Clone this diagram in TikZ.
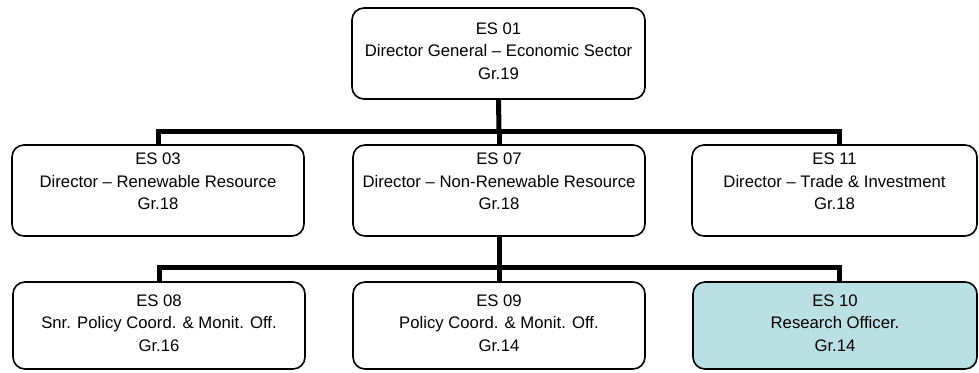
\documentclass[tikz,border=0pt]{standalone}
\usepackage{fontspec}
\setmainfont{Liberation Sans}
\definecolor{hilite}{RGB}{187,224,227}
\begin{document}
\begin{tikzpicture}[x=1pt,y=-1pt,
  box/.style={draw=black,line width=1.6pt,rounded corners=12pt,fill=white,inner sep=0pt},
  lbl/.style={inner sep=0pt,align=center,font=\fontsize{16.7}{22.5}\selectfont},
  conn/.style={line width=5pt,line join=miter}]
\useasboundingbox (0,0) rectangle (979,372);
% boxes
\node[box,minimum width=293pt,minimum height=91pt] (es01) at (498.5,53.5) {};
\node[box,minimum width=292pt,minimum height=91pt] (es03) at (158,190.5) {};
\node[box,minimum width=292pt,minimum height=91pt] (es07) at (499,190.5) {};
\node[box,minimum width=285pt,minimum height=91pt] (es11) at (834.5,190.5) {};
\node[box,minimum width=292pt,minimum height=87pt] (es08) at (159,325.5) {};
\node[box,minimum width=292pt,minimum height=87pt] (es09) at (499,325.5) {};
\node[box,fill=hilite,minimum width=284pt,minimum height=87pt] (es10) at (835,325.5) {};
% texts
\node[lbl] (t01) at ([yshift=2.5pt]es01.center) {ES 01\\Director General – Economic Sector\\Gr.19};
\node[lbl] (t03) at ([yshift=9pt]es03.center) {ES 03\\Director – Renewable Resource\\Gr.18};
\node[lbl] (t07) at ([yshift=9pt]es07.center) {ES 07\\Director – Non-Renewable Resource\\Gr.18};
\node[lbl] (t11) at ([yshift=9pt]es11.center) {ES 11\\Director – Trade \& Investment\\Gr.18};
\node[lbl] (t08) at ([yshift=2.5pt]es08.center) {ES 08\\Snr. Policy Coord. \& Monit. Off.\\Gr.16};
\node[lbl] (t09) at ([yshift=2.5pt]es09.center) {ES 09\\Policy Coord. \& Monit. Off.\\Gr.14};
\node[lbl] (t10) at ([yshift=2.5pt]es10.center) {ES 10\\Research Officer.\\Gr.14};
\coordinate (bus1) at (499,131);
\coordinate (bus2) at (499,267);
% level 1 -> level 2
\draw[conn] (es01.south) -- (bus1);
\draw[conn] (es03.north) -- (es03.north |- bus1) -- ([xshift=5pt]es11.north |- bus1) -- ([xshift=5pt]es11.north);
\draw[conn] (bus1) -- (es07.north);
% level 2 -> level 3
\draw[conn] (es07.south) -- (bus2);
\draw[conn] (es08.north) -- (es08.north |- bus2) -- ([xshift=4pt]es10.north |- bus2) -- ([xshift=4pt]es10.north);
\draw[conn] (bus2) -- (es09.north);
\end{tikzpicture}
\end{document}
